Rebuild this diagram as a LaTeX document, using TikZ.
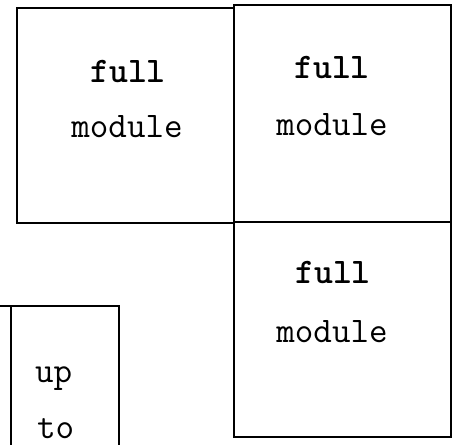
\documentclass[tikz,border=0pt]{standalone}
\usepackage{fontspec}
\usepackage{tikz}
\usetikzlibrary{positioning}

\tikzset{
  modbox/.style={draw,line width=2.6pt,inner sep=0pt,outer sep=0pt},
  typed/.style={font=\fontsize{36}{42}\selectfont\ttfamily,inner sep=0pt,anchor=base}
}

\begin{document}
\begin{tikzpicture}[x=1pt,y=-1pt]
    \useasboundingbox (0,0) rectangle (457,445);
    % the three full modules
    \node[modbox,minimum width=217pt,minimum height=215pt] (boxA) at (125.5,115.5) {};
    \node[modbox,minimum width=217pt,minimum height=217pt] (boxB) at (342.5,113.5) {};
    \node[modbox,minimum width=217pt,minimum height=215pt] (boxC) at (342.5,329.5) {};
    \node[typed] (fullA) at (128,82) {\textbf{full}};
    \node[typed] (modA) at (127,137) {module};
    \node[typed] (fullB) at (332,78) {\textbf{full}};
    \node[typed] (modB) at (332,135) {module};
    \node[typed] (fullC) at (333,283) {\textbf{full}};
    \node[typed] (modC) at (332,342) {module};
    % partial module, cut off below
    \coordinate (dTopL) at (0,306);
    \coordinate (dTopR) at (119,306);
    \coordinate (dBotR) at (119,445);
    \coordinate (dInL) at (11,306);
    \coordinate (dBotL) at (11,445);
    \draw[line width=2.6pt] (dTopL) -- (dTopR) -- (dBotR);
    \draw[line width=2.6pt] (dInL) -- (dBotL);
    \node[typed,anchor=base west] (upD) at (35,382) {up};
    \node[typed,anchor=base west] (toD) at (37,438) {to};
  \end{tikzpicture}
\end{document}
